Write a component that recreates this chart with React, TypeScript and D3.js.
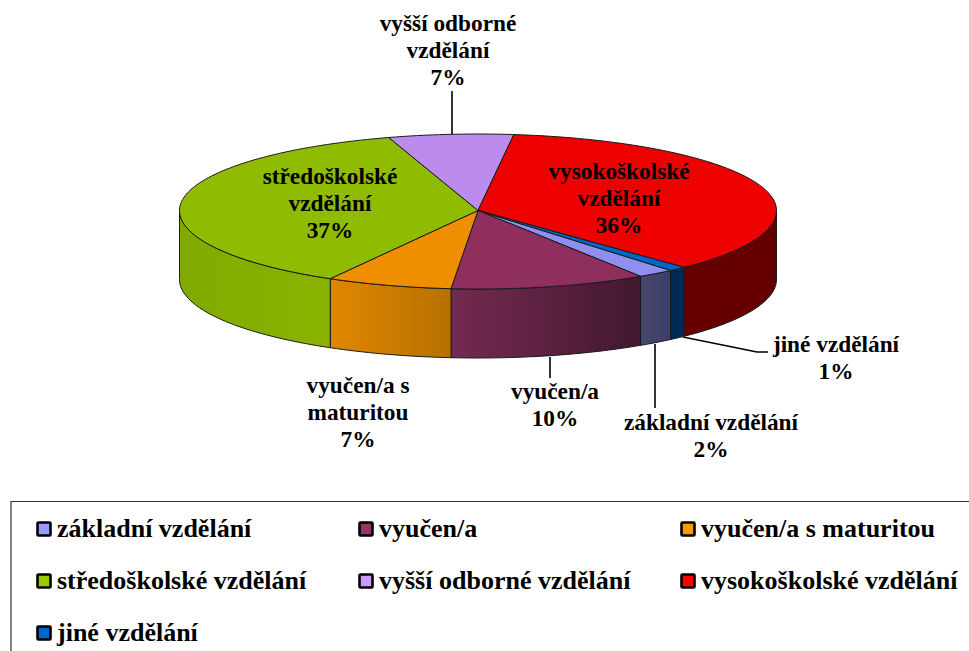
import React from "react";
import * as d3 from "d3";

const categories = ["základní vzdělání", "vyučen/a", "vyučen/a s maturitou", "středoškolské vzdělání", "vyšší odborné vzdělání", "vysokoškolské vzdělání", "jiné vzdělání"];
const values = [2, 10.6, 6.8, 36.9, 6.75, 35.95, 0.95];
const topColors = ["#8f8fef", "#8e2f5d", "#ef8f00", "#8fbc00", "#bb8cee", "#ee0000", "#0066cc"];
const wallStart = ["#48486f", "#742a50", "#e08700", "#80aa00", "#bb8cee", "#660000", "#002a55"];
const wallEnd = ["#3c3c66", "#431830", "#b87000", "#8ab400", "#bb8cee", "#660000", "#002a55"];
const legendColors = ["#9999ff", "#993366", "#ff9900", "#99cc00", "#cc99ff", "#ff0000", "#0066cc"];

const dataLabels = [
  { lines: ["základní vzdělání", "2%"], x: 711, y: 430 },
  { lines: ["vyučen/a", "10%"], x: 555, y: 399 },
  { lines: ["vyučen/a s", "maturitou", "7%"], x: 358, y: 393 },
  { lines: ["středoškolské", "vzdělání", "37%"], x: 330, y: 184 },
  { lines: ["vyšší odborné", "vzdělání", "7%"], x: 448, y: 31 },
  { lines: ["vysokoškolské", "vzdělání", "36%"], x: 619, y: 179 },
  { lines: ["jiné vzdělání", "1%"], x: 836, y: 352 },
];
const leaders = [
  [[655, 344], [655, 408]],
  [[550, 357], [550, 378]],
  [[452, 91], [452, 134]],
  [[683, 337], [757, 352], [768, 352]],
];
const legendPos = [[36, 0], [358, 0], [680, 0], [36, 1], [358, 1], [680, 1], [36, 2]];

const cx = 478, rx = 298.5, depth = 69;
const sx = d3.scaleLinear().domain([-1, 1]).range([cx - rx, cx + rx]);
const sy = d3.scaleLinear().domain([-1, 0, 1]).range([134, 210.5, 289]);
const cy = sy(0);
const startAngle = (139.8 * Math.PI) / 180;
const pie = d3.pie<number>().sort(null).startAngle(startAngle).endAngle(startAngle + 2 * Math.PI);
const arcs = pie(values);

// d3 pie angle: 0 at 12 o'clock, clockwise
const ptX = (a: number) => sx(Math.sin(a));
const ptY = (a: number, dy = 0) => sy(-Math.cos(a)) + dy;
const sample = (a0: number, a1: number) => {
  const n = Math.max(2, Math.ceil(Math.abs(a1 - a0) * 40));
  return d3.range(n + 1).map((i) => a0 + ((a1 - a0) * i) / n);
};
const line = d3.line<[number, number]>();

const topPath = (a0: number, a1: number) =>
  line([[cx, cy], ...sample(a0, a1).map((a) => [ptX(a), ptY(a)] as [number, number])])! + "Z";

// the visible front wall lies between 90° and 270° in pie angles
const wallRange = (a0: number, a1: number): [number, number][] => {
  const out: [number, number][] = [];
  for (const k of [0, 2 * Math.PI]) {
    const lo = Math.max(a0, Math.PI / 2 + k);
    const hi = Math.min(a1, (3 * Math.PI) / 2 + k);
    if (hi > lo) out.push([lo, hi]);
  }
  return out;
};
const wallPath = (a0: number, a1: number) => {
  const s = sample(a0, a1);
  const up = s.map((a) => [ptX(a), ptY(a)] as [number, number]);
  const down = s.slice().reverse().map((a) => [ptX(a), ptY(a, depth)] as [number, number]);
  return line([...up, ...down])! + "Z";
};

const font = "'Liberation Serif', 'Times New Roman', serif";

export default function App() {
  const walls = arcs.flatMap((d, i) => wallRange(d.startAngle, d.endAngle).map((r) => ({ i, r })));
  return (
    <svg width={969} height={651} style={{ position: "absolute", left: 0, top: 0, background: "#fff" }} fontFamily={font} fontWeight="bold">
      <defs>
        {walls.map(({ i, r }, k) => (
          <linearGradient key={k} id={`w${k}`} gradientUnits="userSpaceOnUse" x1={ptX(r[1])} x2={ptX(r[0])} y1={0} y2={0}>
            <stop offset="0" stopColor={wallStart[i]} />
            <stop offset="1" stopColor={wallEnd[i]} />
          </linearGradient>
        ))}
      </defs>
      {leaders.map((l, i) => (
        <path key={i} d={line(l as [number, number][])!} fill="none" stroke="#000" strokeWidth={1.6} />
      ))}
      {walls.map(({ r }, k) => (
        <path key={k} d={wallPath(r[0], r[1])} fill={`url(#w${k})`} stroke="#1a1a1a" strokeWidth={1} strokeLinejoin="round" />
      ))}
      {arcs.map((d, i) => (
        <path key={i} d={topPath(d.startAngle, d.endAngle)} fill={topColors[i]} stroke="#1a1a1a" strokeWidth={1} strokeLinejoin="round" />
      ))}
      {dataLabels.map((l, i) => (
        <text key={i} x={l.x} y={l.y} textAnchor="middle" fontSize={23.3} fill="#000">
          {l.lines.map((t, j) => (
            <tspan key={j} x={l.x} dy={j === 0 ? 0 : 27}>{t}</tspan>
          ))}
        </text>
      ))}
      <path d="M969,501.5H11V651" fill="none" stroke="#333" strokeWidth={1.2} />
      {categories.map((c, i) => {
        const [x, row] = legendPos[i];
        const y = 521 + row * 52;
        return (
          <g key={c}>
            <rect x={x + 1.5} y={y + 1.5} width={13} height={13} rx={1} fill={legendColors[i]} stroke="#000" strokeWidth={2.6} />
            <text x={x + 21} y={y + 15.5} fontSize={26} fill="#000">{c}</text>
          </g>
        );
      })}
    </svg>
  );
}
